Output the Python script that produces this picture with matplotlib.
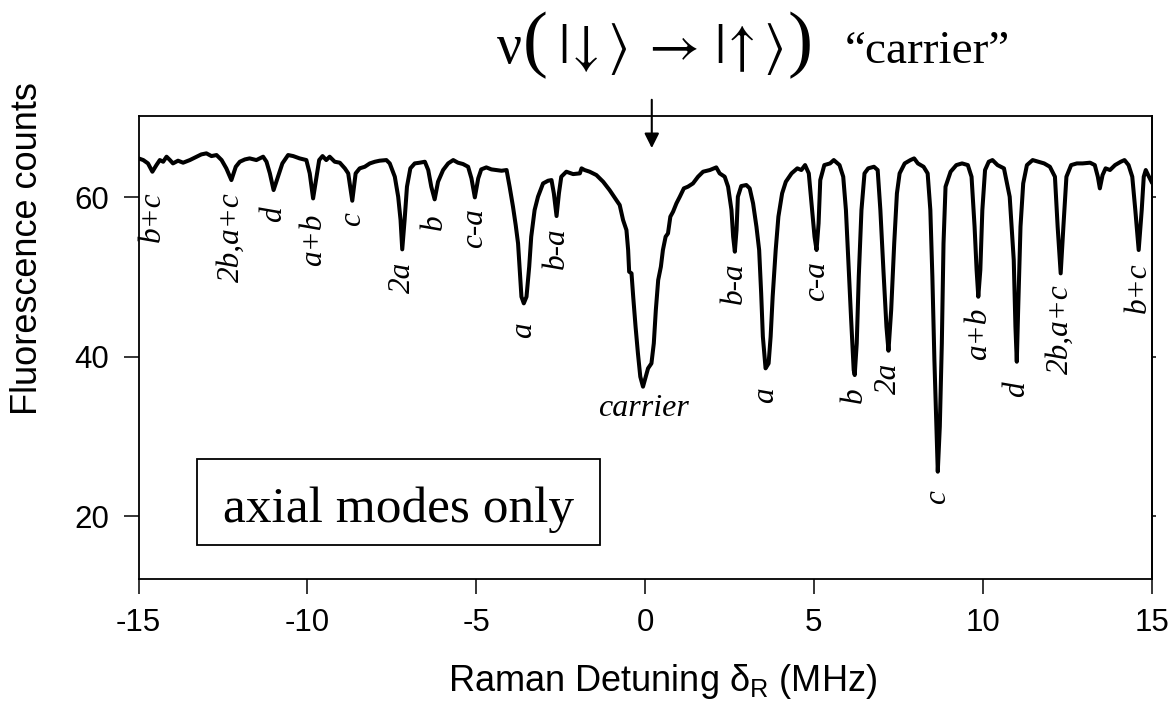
import matplotlib
matplotlib.use("Agg")
import matplotlib.pyplot as plt
from matplotlib.patches import Rectangle

plt.rcParams["font.family"] = ["Liberation Sans", "DejaVu Sans"]
plt.rcParams["mathtext.fontset"] = "custom"
plt.rcParams["mathtext.rm"] = "Liberation Sans"
plt.rcParams["mathtext.it"] = "Liberation Sans:italic"

# Raman spectrum: detuning (MHz) and fluorescence counts
detuning = [
    -15.00, -14.86, -14.72, -14.59, -14.47, -14.37, -14.27, -14.17, -14.07, -13.98,
    -13.83, -13.68, -13.48, -13.28, -13.14, -12.99, -12.84, -12.69, -12.54, -12.40,
    -12.25, -12.12, -12.00, -11.85, -11.71, -11.51, -11.31, -11.21, -11.11, -11.00,
    -10.87, -10.74, -10.57, -10.42, -10.23, -10.03, -9.93, -9.83, -9.73, -9.65,
    -9.55, -9.44, -9.34, -9.19, -9.04, -8.89, -8.79, -8.67, -8.57, -8.45,
    -8.30, -8.15, -8.00, -7.86, -7.66, -7.56, -7.41, -7.31, -7.24, -7.19,
    -7.12, -7.05, -6.95, -6.82, -6.67, -6.52, -6.42, -6.33, -6.23, -6.13,
    -5.98, -5.83, -5.68, -5.54, -5.39, -5.24, -5.14, -5.04, -4.94, -4.85,
    -4.70, -4.55, -4.40, -4.25, -4.10, -4.01, -3.91, -3.83, -3.76, -3.71,
    -3.66, -3.59, -3.51, -3.43, -3.37, -3.27, -3.17, -3.02, -2.87, -2.77,
    -2.70, -2.62, -2.55, -2.48, -2.33, -2.13, -1.93,
    -1.88, -1.79, -1.64, -1.44, -1.24, -1.05, -0.85, -0.75, -0.65, -0.55,
    -0.50, -0.47, -0.40, -0.35, -0.28, -0.21, -0.14, -0.06, 0.02, 0.09,
    0.19, 0.26, 0.32, 0.39, 0.47, 0.53, 0.61, 0.68, 0.75, 0.83,
    0.93, 1.03, 1.15, 1.27, 1.42, 1.57, 1.72, 1.92, 2.11, 2.21,
    2.36, 2.46, 2.56, 2.61, 2.66, 2.71, 2.75, 2.85, 3.00, 3.10,
    3.20, 3.30,
    3.38, 3.44, 3.49, 3.57, 3.66, 3.72, 3.78, 3.87, 3.95, 4.06,
    4.17, 4.34, 4.51, 4.63, 4.74, 4.85, 4.93, 5.02, 5.08, 5.14,
    5.19, 5.31, 5.48, 5.59, 5.76, 5.87, 5.95, 6.02, 6.10, 6.18,
    6.21, 6.27, 6.33, 6.41, 6.50, 6.61, 6.78, 6.89, 6.97, 7.06,
    7.15, 7.21, 7.29, 7.38, 7.46, 7.54, 7.69, 7.86, 7.97, 8.08,
    8.25, 8.37, 8.45, 8.51, 8.57, 8.63, 8.67, 8.73, 8.79, 8.84,
    8.90, 9.05, 9.22, 9.39, 9.56, 9.67, 9.76, 9.82, 9.87, 9.93,
    9.99, 10.07, 10.18, 10.29, 10.44, 10.63, 10.80, 10.92, 10.97, 11.01,
    11.05, 11.12, 11.20, 11.31, 11.48, 11.65, 11.82, 11.99, 12.14, 12.22,
    12.31, 12.39, 12.48, 12.62, 12.79, 12.96, 13.18, 13.32, 13.41, 13.47,
    13.55, 13.64, 13.77, 13.92, 14.09, 14.20, 14.32, 14.43, 14.52, 14.62,
    14.71, 14.77, 14.83, 14.90, 15.00,
]
counts = [
    64.85, 64.64, 64.22, 63.18, 64.01, 64.64, 64.43, 65.06, 64.64, 64.22,
    64.56, 64.31, 64.64, 65.06, 65.35, 65.48, 65.14, 65.27, 64.64, 63.60,
    62.13, 63.80, 64.43, 64.72, 64.85, 64.64, 65.06, 64.43, 62.97, 60.88,
    62.55, 64.22, 65.27, 65.14, 64.85, 64.64, 62.97, 59.83, 62.55, 64.64,
    65.14, 64.64, 65.06, 64.43, 64.31, 63.60, 62.97, 59.54, 62.97, 63.60,
    63.80, 64.22, 64.43, 64.56, 64.64, 64.22, 62.55, 60.04, 57.12, 53.44,
    57.12, 61.30, 63.60, 64.22, 64.31, 64.43, 63.39, 61.30, 59.71, 61.92,
    63.39, 64.22, 64.64, 64.31, 64.14, 63.80, 62.34, 59.96, 62.34, 63.47,
    63.72, 63.47, 63.39, 63.30, 63.39, 61.30, 58.79, 56.49, 54.19, 50.85,
    47.50, 46.67, 47.50, 51.27, 55.03, 58.37, 60.04, 61.71, 62.05, 62.13,
    60.46, 57.62, 60.46, 62.55, 63.18, 62.88, 62.97,
    63.60, 63.39, 63.18, 62.76, 61.92, 60.88, 59.62, 59.00, 57.12, 55.86,
    53.36, 50.64, 50.43, 47.50, 43.74, 40.40, 37.47, 36.22, 37.47, 38.52,
    39.14, 41.65, 45.83, 49.59, 51.27, 53.36, 55.03, 55.44, 57.54, 58.16,
    59.21, 60.04, 61.09, 61.30, 61.71, 62.55, 63.18, 63.39, 63.72, 62.97,
    62.55, 61.30, 58.37, 55.03, 53.15, 55.86, 60.04, 61.38, 61.51, 61.09,
    59.21, 56.28,
    53.36, 47.92, 42.49, 38.52, 39.14, 42.49, 47.50, 53.36, 57.54, 60.46,
    61.92, 62.97, 63.60, 63.39, 64.01, 62.97, 59.21, 55.03, 53.36, 56.70,
    62.13, 64.01, 64.22, 64.64, 64.01, 62.55, 58.37, 52.10, 45.00, 38.31,
    37.68, 41.65, 50.01, 58.37, 62.97, 63.60, 63.80, 63.39, 58.37, 50.85,
    43.74, 40.73, 45.83, 54.19, 60.46, 62.97, 64.22, 64.64, 64.85, 64.22,
    63.80, 62.97, 58.37, 50.01, 39.56, 31.20, 25.56, 31.20, 41.65, 54.19,
    61.30, 63.18, 64.01, 64.22, 64.01, 62.55, 56.28, 50.85, 47.50, 50.85,
    58.37, 63.39, 64.43, 64.64, 64.01, 63.60, 60.04, 52.10, 43.74, 39.35,
    45.83, 56.28, 61.71, 64.01, 64.64, 64.43, 64.22, 63.80, 62.55, 56.28,
    50.43, 56.28, 62.55, 64.01, 64.22, 64.22, 64.31, 64.01, 62.55, 61.09,
    62.76, 63.60, 63.39, 64.01, 64.43, 64.64, 64.01, 62.55, 58.37, 53.36,
    58.37, 62.55, 63.39, 62.76, 61.92,
]

# Sideband assignments and the positions/depths of the labelled dips
peak_names = ["b+c", "2b,a+c", "d", "a+b", "c", "2a", "b", "c-a", "a", "b-a",
              "b-a", "a", "c-a", "b", "2a", "c", "a+b", "d", "2b,a+c", "b+c"]
peak_x = [-14.59, -12.25, -11.00, -9.83, -8.67, -7.19, -6.23, -5.04, -3.59, -2.62,
          2.66, 3.57, 5.08, 6.21, 7.21, 8.67, 9.87, 11.01, 12.31, 14.62]
peak_y = [63.18, 62.13, 60.88, 59.83, 59.54, 53.44, 59.71, 59.96, 46.67, 57.62,
          53.15, 38.52, 53.36, 37.68, 40.73, 25.56, 47.50, 39.35, 50.43, 53.36]
carrier_x, carrier_y = -0.06, 36.22

x_ticks = [-15, -10, -5, 0, 5, 10, 15]
y_ticks = [20, 40, 60]

# gap (points) between each dip minimum and its label
label_gap = [14, 9, 12, 11, 8, 9, 11, 8, 14, 8,
             8, 14, 8, 9, 9, 13, 8, 14, 8, 9]

W, H = 1170, 705
fig = plt.figure(figsize=(W / 100, H / 100), dpi=100)
ax = fig.add_axes([0.1184, 0.1787, 0.8658, 0.6567])

ax.plot(detuning, counts, color="black", lw=2.9, solid_joinstyle="round")

ax.set_xlim(-15, 15)
ax.set_ylim(12.1, 70.16)
ax.set_xticks(x_ticks)
ax.set_yticks(y_ticks)
ax.set_xticklabels([str(t) for t in x_ticks])
ax.set_yticklabels([str(t) for t in y_ticks])
ax.tick_params(axis="both", direction="out", length=11, width=1.1,
               labelsize=22.5, pad=10, colors="black")
for sp in ax.spines.values():
    sp.set_linewidth(1.3)

# short unlabelled ticks on the right-hand frame
right = ax.secondary_yaxis("right")
right.set_yticks(y_ticks)
right.tick_params(length=3, width=1.1, labelright=False)
right.spines["right"].set_linewidth(1.3)

ax.set_xlabel(r"Raman Detuning $\mathrm{\delta}_{\mathrm{R}}$ (MHz)", fontsize=26)
ax.xaxis.set_label_coords(0.517, -0.222)
ax.xaxis.label.set_va("center")
ax.set_ylabel("Fluorescence counts", fontsize=26)
ax.yaxis.set_label_coords(-0.110, 0.714)
ax.yaxis.label.set_va("center")

serif = ["Liberation Serif", "DejaVu Serif"]
for name, px, py, gap in zip(peak_names, peak_x, peak_y, label_gap):
    ax.annotate(name, xy=(px, py), xytext=(0, -gap), textcoords="offset points",
                rotation=90, ha="center", va="top", fontsize=22.5,
                family=serif, style="italic")

ax.annotate("carrier", xy=(carrier_x, carrier_y), xytext=(0, -16),
            textcoords="offset points", ha="center", va="center",
            fontsize=23, family=serif, style="italic")

# transition marker above the carrier
ax.annotate("", xy=(0.2, 66.14), xytext=(0.2, 72.2),
            arrowprops=dict(arrowstyle="-|>", color="black", lw=1.5,
                            mutation_scale=22, shrinkA=0, shrinkB=0),
            annotation_clip=False)

# heading, laid out piece by piece along one baseline
renderer = fig.canvas.get_renderer()
baseline = 1 - 63 / H


def put(s, x_px, **kw):
    t = fig.text(x_px / W, baseline, s, ha="left", va="baseline", **kw)
    return t.get_window_extent(renderer).x1


x = put("ν", 497, fontsize=40, family=serif)
x = put("(", x + 1, fontsize=54, family=serif)
x = put(r"$\,|\!\downarrow\rangle\;\rightarrow\,|\!\uparrow\rangle$", x + 4,
        fontsize=40, math_fontfamily="stix")
x = put(")", x + 4, fontsize=54, family=serif)
put("“carrier”", x + 32, fontsize=34, family=serif)

# inset caption box
ax.add_patch(Rectangle((0.0577, 0.0734), 0.3979, 0.1857, transform=ax.transAxes,
                       fill=False, lw=1.3, edgecolor="black"))
ax.text(0.2567, 0.124, "axial modes only", transform=ax.transAxes,
        ha="center", va="baseline", fontsize=37, family=serif)

fig.savefig("out.png", dpi=100)
